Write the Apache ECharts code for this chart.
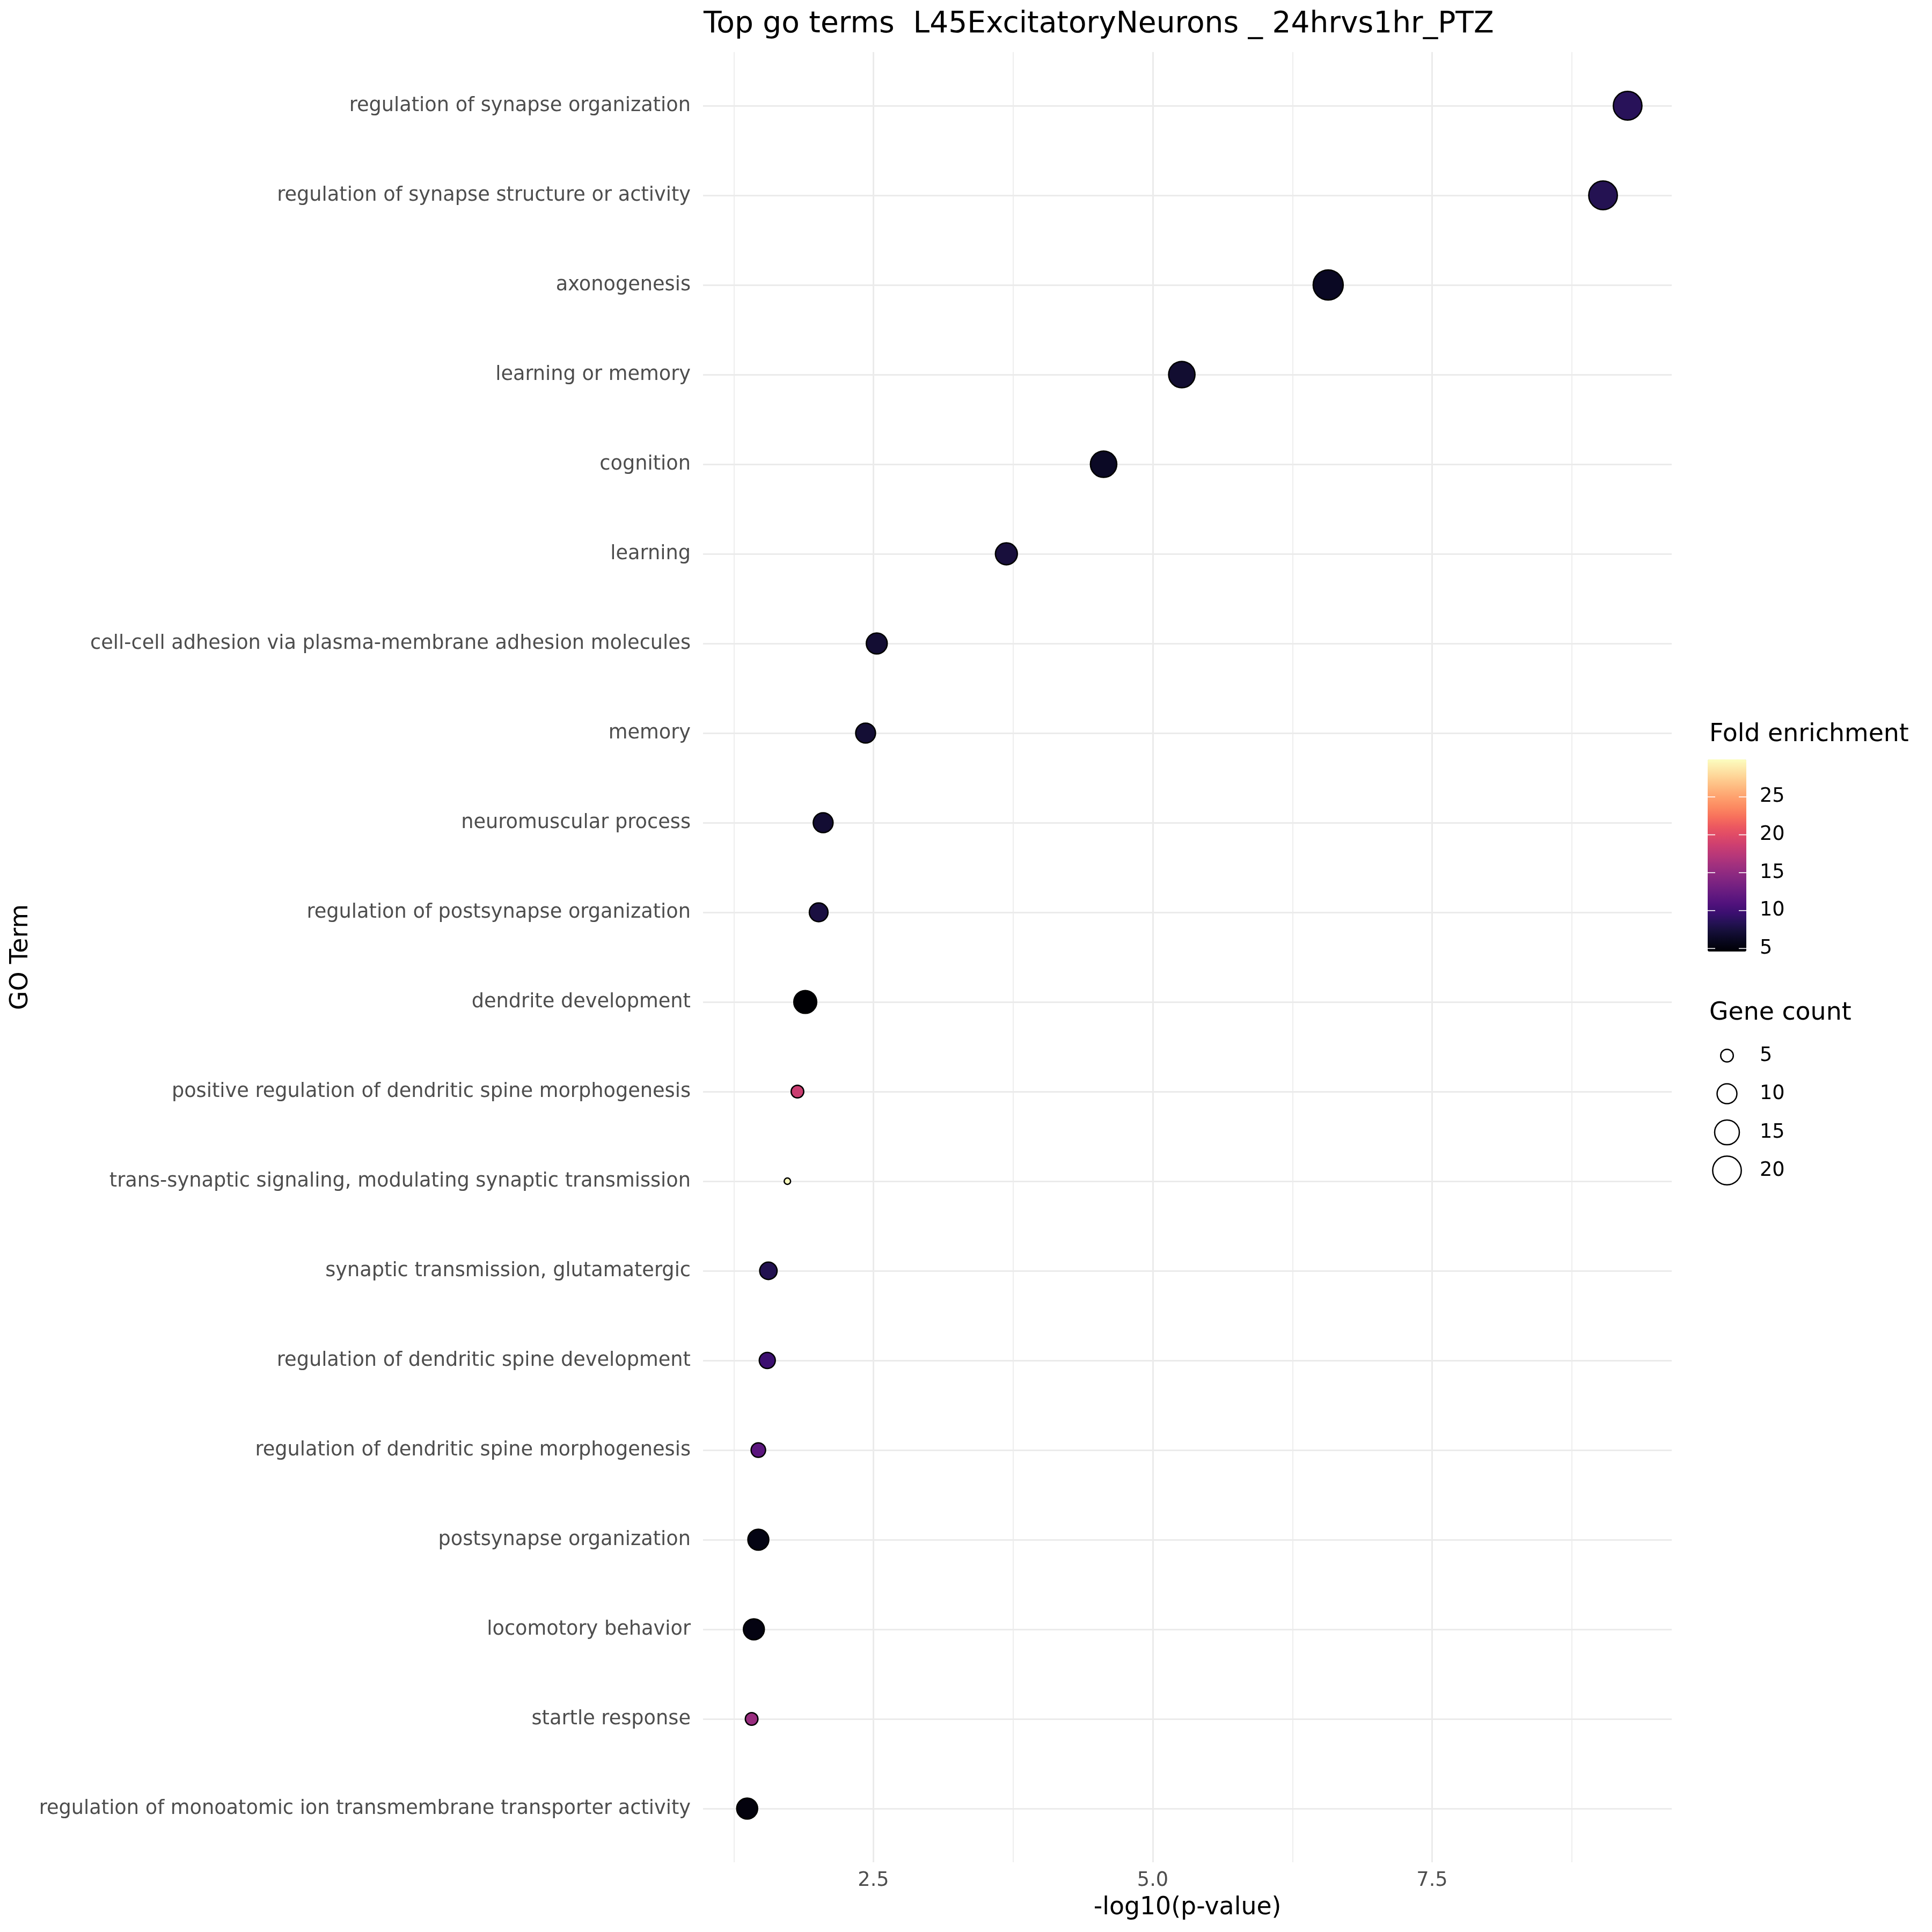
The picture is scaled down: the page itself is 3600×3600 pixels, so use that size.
<!DOCTYPE html>
<html>
<head>
<meta charset="utf-8">
<script src="https://cdn.jsdelivr.net/npm/echarts@6/dist/echarts.min.js"></script>
<style>html,body{margin:0;padding:0;background:#fff}#c{width:3600px;height:3600px}</style>
</head>
<body>
<div id="c"></div>
<script>
const categories = [
  "regulation of synapse organization",
  "regulation of synapse structure or activity",
  "axonogenesis",
  "learning or memory",
  "cognition",
  "learning",
  "cell-cell adhesion via plasma-membrane adhesion molecules",
  "memory",
  "neuromuscular process",
  "regulation of postsynapse organization",
  "dendrite development",
  "positive regulation of dendritic spine morphogenesis",
  "trans-synaptic signaling, modulating synaptic transmission",
  "synaptic transmission, glutamatergic",
  "regulation of dendritic spine development",
  "regulation of dendritic spine morphogenesis",
  "postsynapse organization",
  "locomotory behavior",
  "startle response",
  "regulation of monoatomic ion transmembrane transporter activity"
];
const negLog10P = [9.25, 9.03, 6.57, 5.26, 4.56, 3.69, 2.53, 2.43, 2.05, 2.01, 1.89, 1.82, 1.73, 1.56, 1.55, 1.47, 1.47, 1.43, 1.41, 1.37];
const geneCount = [20, 20, 22, 17, 17, 12, 11, 10, 10, 9, 13, 5, 3, 8, 7, 6, 11, 11, 5, 11];
const foldEnrichment = [8.6, 8.3, 6.2, 6.9, 6.3, 7.4, 7.0, 7.1, 7.0, 7.6, 4.6, 18.5, 29.95, 8.2, 9.7, 11.6, 5.4, 5.3, 15.5, 5.1];
const xTicks = [2.5, 5.0, 7.5];
const colorTicks = [5, 10, 15, 20, 25];
const sizeBreaks = [5, 10, 15, 20];

const FONT = "DejaVu Sans";
const magma = ["#000004","#07061c","#140e36","#251255","#3b0f70","#51127c","#641a80","#782281","#8c2981","#a1307e","#b73779","#cb3e71","#de4968","#ec5860","#f7705c","#fc8961","#fe9f6d","#feb77e","#fecf92","#fde7a9","#fcfdbf"];
const BW = 2.5;
function outerDiam(v){ return 9.4 + 11.2*Math.sqrt(Math.max(v-2.8,0)); }
function symSize(v){ return outerDiam(v) - BW; }

const feMin = Math.min(...foldEnrichment), feMax = Math.max(...foldEnrichment);
const xMin = 0.975, xMax = 9.645;
const unit = 208.2, x0px = 1107;
const px = v => x0px + v*unit;
const panelTop = 97, panelBottom = 3470;
const rowTop = 197, rowBottom = 3370;

const data = categories.map((c,i)=>[negLog10P[i], c, geneCount[i], foldEnrichment[i]]);

// colorbar geometry
const cbLeft = 3182, cbTop = 1415, cbW = 72, cbH = 358;
const cbY = v => cbTop + cbH - (v - feMin)/(feMax - feMin)*cbH;

const graphics = [];
graphics.push({type:'text', x:3185, y:1369, style:{text:'Fold enrichment', fontSize:45.8, fontFamily:FONT, fill:'#000', align:'left', verticalAlign:'middle'}});
colorTicks.forEach(t=>{
  const y = cbY(t);
  graphics.push({type:'line', z:100, shape:{x1:cbLeft, y1:y, x2:cbLeft+14, y2:y}, style:{stroke:'#fff', lineWidth:1.6}});
  graphics.push({type:'line', z:100, shape:{x1:cbLeft+cbW-14, y1:y, x2:cbLeft+cbW, y2:y}, style:{stroke:'#fff', lineWidth:1.6}});
  graphics.push({type:'text', x:3279, y:y, style:{text:String(t), fontSize:36.7, fontFamily:FONT, fill:'#000', align:'left', verticalAlign:'middle'}});
});
graphics.push({type:'text', x:3185, y:1888, style:{text:'Gene count', fontSize:45.8, fontFamily:FONT, fill:'#000', align:'left', verticalAlign:'middle'}});
const sizeY = [1967, 2038, 2110, 2181];
sizeBreaks.forEach((s,i)=>{
  graphics.push({type:'circle', shape:{cx:3218, cy:sizeY[i], r:symSize(s)/2}, style:{fill:'#fff', stroke:'#000', lineWidth:BW}});
  graphics.push({type:'text', x:3279, y:sizeY[i], style:{text:String(s), fontSize:36.7, fontFamily:FONT, fill:'#000', align:'left', verticalAlign:'middle'}});
});

const gridLine = '#EBEBEB';
const option = {
  backgroundColor:'#fff',
  animation:false,
  textStyle:{fontFamily:FONT},
  title:{text:'Top go terms  L45ExcitatoryNeurons _ 24hrvs1hr_PTZ', left:1311, top:18, padding:0,
    textStyle:{fontSize:55, fontWeight:'normal', color:'#000', fontFamily:FONT, lineHeight:56}},
  grid:[
    {left:px(1.25), right:3600-px(8.75), top:panelTop, bottom:3600-panelBottom},
    {left:px(2.5), right:3600-px(7.5), top:panelTop, bottom:3600-panelBottom},
    {left:px(xMin), right:3600-px(xMax), top:rowTop, bottom:3600-rowBottom}
  ],
  xAxis:[
    {gridIndex:0, type:'value', min:1.25, max:8.75, interval:1.25,
      axisLine:{show:false}, axisTick:{show:false}, axisLabel:{show:false},
      splitLine:{show:true, lineStyle:{color:gridLine, width:1.7}}},
    {gridIndex:1, type:'value', min:xTicks[0], max:xTicks[xTicks.length-1], interval:2.5,
      axisLine:{show:false}, axisTick:{show:false},
      axisLabel:{show:true, margin:16, fontSize:36.7, color:'#4D4D4D', fontFamily:FONT, formatter:v=>v.toFixed(1)},
      splitLine:{show:true, lineStyle:{color:gridLine, width:3}}},
    {gridIndex:2, type:'value', min:xMin, max:xMax,
      axisLine:{show:false}, axisTick:{show:false}, axisLabel:{show:false}, splitLine:{show:false},
      name:'-log10(p-value)', nameLocation:'middle', nameGap:162,
      nameTextStyle:{fontSize:45.8, color:'#000', fontFamily:FONT}}
  ],
  yAxis:[
    {gridIndex:0, type:'value', show:false, splitLine:{show:false}},
    {gridIndex:1, type:'value', show:false, splitLine:{show:false}},
    {gridIndex:2, type:'category', data:categories, inverse:true, boundaryGap:false,
      axisLine:{show:false}, axisTick:{show:false},
      axisLabel:{show:true, interval:0, margin:23, fontSize:36.7, color:'#4D4D4D', fontFamily:FONT},
      splitLine:{show:true, interval:0, lineStyle:{color:gridLine, width:3}},
      name:'GO Term', nameLocation:'middle', nameGap:1246,
      nameTextStyle:{fontSize:45.8, color:'#000', fontFamily:FONT}}
  ],
  visualMap:{type:'continuous', min:feMin, max:feMax, dimension:3, seriesIndex:0,
    inRange:{color:magma}, orient:'vertical', left:cbLeft, top:cbTop,
    itemWidth:cbW, itemHeight:cbH, calculable:false, text:null, padding:0, hoverLink:false},
  series:[{
    type:'scatter', xAxisIndex:2, yAxisIndex:2, data:data,
    symbol:'circle',
    symbolSize: v => symSize(v[2]),
    itemStyle:{borderColor:'#000', borderWidth:BW, opacity:1},
    z:10
  }],
  graphic:graphics
};
const chart = echarts.init(document.getElementById('c'), null, {renderer:'canvas'});
chart.setOption(option);
</script>
</body>
</html>
